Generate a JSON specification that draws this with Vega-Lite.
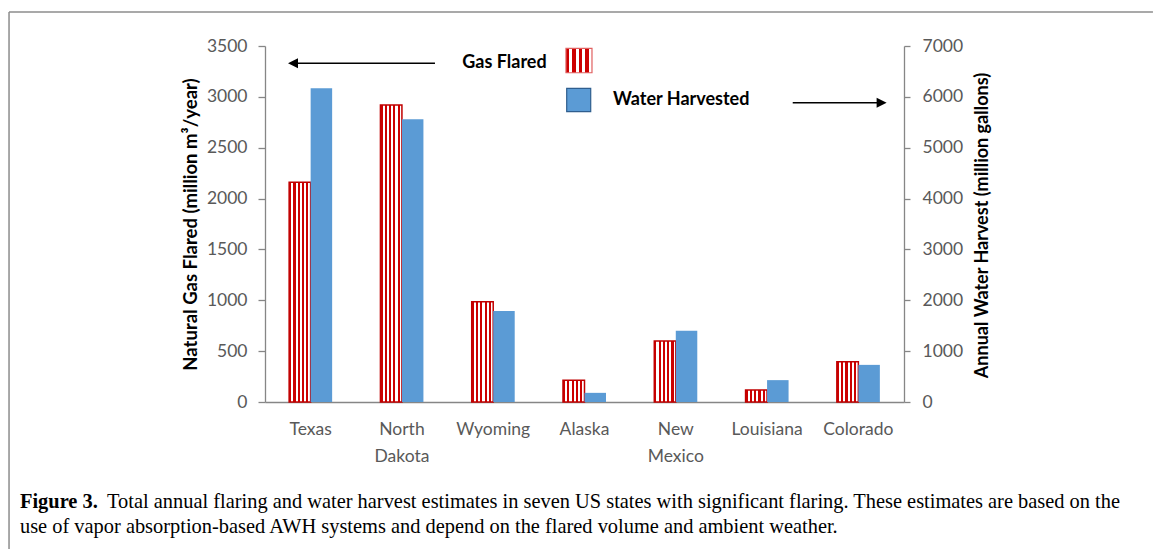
{
  "$schema": "https://vega.github.io/schema/vega-lite/v6.json",
  "width": 639,
  "height": 356,
  "autosize": "none",
  "padding": {"left": 265, "top": 46, "right": 249, "bottom": 147},
  "background": "#ffffff",
  "config": {
    "font": "Lato",
    "view": {"stroke": null},
    "axis": {"grid": false, "labelFont": "Lato", "labelFontSize": 17.5, "labelColor": "#595959", "titleFont": "Lato", "titleFontSize": 18.5, "titleFontWeight": "bold", "titleColor": "#000000", "domainColor": "#868686", "domainWidth": 1.3, "tickColor": "#868686", "tickWidth": 1.3}
  },
  "layer": [
    {
      "data": {"values": [
        {"state": "Texas", "gas": 2160, "water": 6170},
        {"state": "North Dakota", "gas": 2920, "water": 5560},
        {"state": "Wyoming", "gas": 985, "water": 1790},
        {"state": "Alaska", "gas": 215, "water": 180},
        {"state": "New Mexico", "gas": 600, "water": 1400},
        {"state": "Louisiana", "gas": 118, "water": 430},
        {"state": "Colorado", "gas": 396, "water": 730}
      ]},
      "encoding": {
        "x": {"field": "state", "type": "nominal", "sort": null,
          "scale": {"paddingInner": 0.529, "paddingOuter": 0.2645},
          "axis": {"title": null, "ticks": false, "tickSize": 0, "labelAngle": 0, "labelExpr": "split(datum.label, ' ')", "labelPadding": 18, "labelLineHeight": 27, "labelBaseline": "top"}}
      },
      "layer": [
        {
          "mark": {"type": "bar", "fill": {"gradient": "linear", "x1": 0, "y1": 0, "x2": 1, "y2": 0, "stops": [
            {"offset": 0, "color": "#cc0000"}, {"offset": 0.1, "color": "#cc0000"}, {"offset": 0.1, "color": "#ffffff"}, {"offset": 0.2, "color": "#ffffff"},
            {"offset": 0.2, "color": "#cc0000"}, {"offset": 0.3, "color": "#cc0000"}, {"offset": 0.3, "color": "#ffffff"}, {"offset": 0.4, "color": "#ffffff"},
            {"offset": 0.4, "color": "#cc0000"}, {"offset": 0.5, "color": "#cc0000"}, {"offset": 0.5, "color": "#ffffff"}, {"offset": 0.6, "color": "#ffffff"},
            {"offset": 0.6, "color": "#cc0000"}, {"offset": 0.7, "color": "#cc0000"}, {"offset": 0.7, "color": "#ffffff"}, {"offset": 0.8, "color": "#ffffff"},
            {"offset": 0.8, "color": "#cc0000"}, {"offset": 0.9, "color": "#cc0000"}, {"offset": 0.9, "color": "#ffffff"}, {"offset": 1, "color": "#ffffff"}
          ]}, "stroke": "#c00000", "strokeWidth": 1.5},
          "encoding": {
            "xOffset": {"datum": "Gas Flared", "type": "nominal", "scale": {"domain": ["Gas Flared", "Water Harvested"], "paddingInner": 0, "paddingOuter": 0}},
            "y": {"field": "gas", "type": "quantitative",
              "scale": {"domain": [0, 3500], "nice": false},
              "axis": {"orient": "left", "values": [0, 500, 1000, 1500, 2000, 2500, 3000, 3500], "format": "d", "tickSize": 7, "labelPadding": 11,
                "title": "Natural Gas Flared (million m³/year)", "titleAngle": -90, "titleX": -75, "titleY": 178, "titleBaseline": "middle", "titleAlign": "center"}}
          }
        },
        {
          "mark": {"type": "bar", "fill": "#5b9bd5"},
          "encoding": {
            "xOffset": {"datum": "Water Harvested", "type": "nominal", "scale": {"domain": ["Gas Flared", "Water Harvested"], "paddingInner": 0, "paddingOuter": 0}},
            "y": {"field": "water", "type": "quantitative",
              "scale": {"domain": [0, 7000], "nice": false},
              "axis": {"orient": "right", "values": [0, 1000, 2000, 3000, 4000, 5000, 6000, 7000], "format": "d", "tickSize": 6, "labelPadding": 12,
                "title": "Annual Water Harvest (million gallons)", "titleFontSize": 18, "titleAngle": -90, "titleX": 78, "titleY": 179, "titleBaseline": "middle", "titleAlign": "center"}}
          }
        }
      ],
      "resolve": {"scale": {"y": "independent"}}
    },
    {
      "data": {"values": [{}]},
      "layer": [
        {
          "mark": {"type": "rule", "stroke": "#000000", "strokeWidth": 1.5},
          "encoding": {
            "x": {"datum": 0.3, "type": "quantitative", "scale": {"domain": [0, 7], "nice": false, "zero": false}, "axis": null},
            "x2": {"datum": 1.862},
            "y": {"datum": 3330, "type": "quantitative", "scale": {"domain": [0, 3500], "nice": false, "zero": false}, "axis": null}
          }
        },
        {
          "mark": {"type": "point", "shape": "M0,0L2,-1L2,1Z", "size": 100, "filled": true, "fill": "#000000", "opacity": 1, "strokeWidth": 0},
          "encoding": {
            "x": {"datum": 0.252, "type": "quantitative"},
            "y": {"datum": 3330, "type": "quantitative"}
          }
        },
        {
          "mark": {"type": "text", "text": "Gas Flared", "align": "right", "baseline": "middle", "font": "Lato", "fontSize": 18, "fontWeight": "bold", "fill": "#000000"},
          "encoding": {
            "x": {"datum": 3.086, "type": "quantitative"},
            "y": {"datum": 3330, "type": "quantitative"}
          }
        },
        {
          "mark": {"type": "rect", "fill": {"gradient": "linear", "x1": 0, "y1": 0, "x2": 1, "y2": 0, "stops": [
            {"offset": 0, "color": "#cc0000"}, {"offset": 0.125, "color": "#cc0000"}, {"offset": 0.125, "color": "#ffffff"}, {"offset": 0.25, "color": "#ffffff"},
            {"offset": 0.25, "color": "#cc0000"}, {"offset": 0.375, "color": "#cc0000"}, {"offset": 0.375, "color": "#ffffff"}, {"offset": 0.5, "color": "#ffffff"},
            {"offset": 0.5, "color": "#cc0000"}, {"offset": 0.625, "color": "#cc0000"}, {"offset": 0.625, "color": "#ffffff"}, {"offset": 0.75, "color": "#ffffff"},
            {"offset": 0.75, "color": "#cc0000"}, {"offset": 0.875, "color": "#cc0000"}, {"offset": 0.875, "color": "#ffffff"}, {"offset": 1, "color": "#ffffff"}
          ]}, "stroke": "#e06060", "strokeWidth": 1.2},
          "encoding": {
            "x": {"datum": 3.297, "type": "quantitative"},
            "x2": {"datum": 3.582},
            "y": {"datum": 3477, "type": "quantitative"},
            "y2": {"datum": 3237}
          }
        },
        {
          "mark": {"type": "rect", "fill": "#5b9bd5", "stroke": "#2f5e8e", "strokeWidth": 1.2},
          "encoding": {
            "x": {"datum": 3.305, "type": "quantitative"},
            "x2": {"datum": 3.568},
            "y": {"datum": 3084, "type": "quantitative"},
            "y2": {"datum": 2854}
          }
        },
        {
          "mark": {"type": "text", "text": "Water Harvested", "align": "left", "baseline": "middle", "font": "Lato", "fontSize": 18, "fontWeight": "bold", "fill": "#000000"},
          "encoding": {
            "x": {"datum": 3.812, "type": "quantitative"},
            "y": {"datum": 2969, "type": "quantitative"}
          }
        },
        {
          "mark": {"type": "rule", "stroke": "#000000", "strokeWidth": 1.5},
          "encoding": {
            "x": {"datum": 5.781, "type": "quantitative"},
            "x2": {"datum": 6.76},
            "y": {"datum": 2943, "type": "quantitative"}
          }
        },
        {
          "mark": {"type": "point", "shape": "M0,0L-2,-1L-2,1Z", "size": 100, "filled": true, "fill": "#000000", "opacity": 1, "strokeWidth": 0},
          "encoding": {
            "x": {"datum": 6.81, "type": "quantitative"},
            "y": {"datum": 2943, "type": "quantitative"}
          }
        },
        {
          "mark": {"type": "rule", "stroke": "#8c8c8c", "strokeWidth": 1.5},
          "encoding": {
            "x": {"datum": -2.804, "type": "quantitative"},
            "x2": {"datum": 9.727},
            "y": {"datum": 3834, "type": "quantitative"}
          }
        },
        {
          "mark": {"type": "rule", "stroke": "#8c8c8c", "strokeWidth": 1.5},
          "encoding": {
            "x": {"datum": -2.804, "type": "quantitative"},
            "y": {"datum": 3834, "type": "quantitative"},
            "y2": {"datum": -1445}
          }
        },
        {
          "mark": {"type": "text", "text": "Figure 3.", "align": "left", "baseline": "alphabetic", "font": "Liberation Serif", "fontSize": 20.4, "fontWeight": "bold", "fill": "#000000"},
          "encoding": {
            "x": {"datum": -2.684, "type": "quantitative"},
            "y": {"datum": -1042, "type": "quantitative"}
          }
        },
        {
          "mark": {"type": "text", "text": "Total annual flaring and water harvest estimates in seven US states with significant flaring. These estimates are based on the", "align": "left", "baseline": "alphabetic", "font": "Liberation Serif", "fontSize": 20.4, "fill": "#000000"},
          "encoding": {
            "x": {"datum": -1.73, "type": "quantitative"},
            "y": {"datum": -1042, "type": "quantitative"}
          }
        },
        {
          "mark": {"type": "text", "text": "use of vapor absorption-based AWH systems and depend on the flared volume and ambient weather.", "align": "left", "baseline": "alphabetic", "font": "Liberation Serif", "fontSize": 20.4, "fill": "#000000"},
          "encoding": {
            "x": {"datum": -2.684, "type": "quantitative"},
            "y": {"datum": -1290, "type": "quantitative"}
          }
        }
      ]
    }
  ],
  "resolve": {"scale": {"x": "independent", "y": "independent"}}
}
